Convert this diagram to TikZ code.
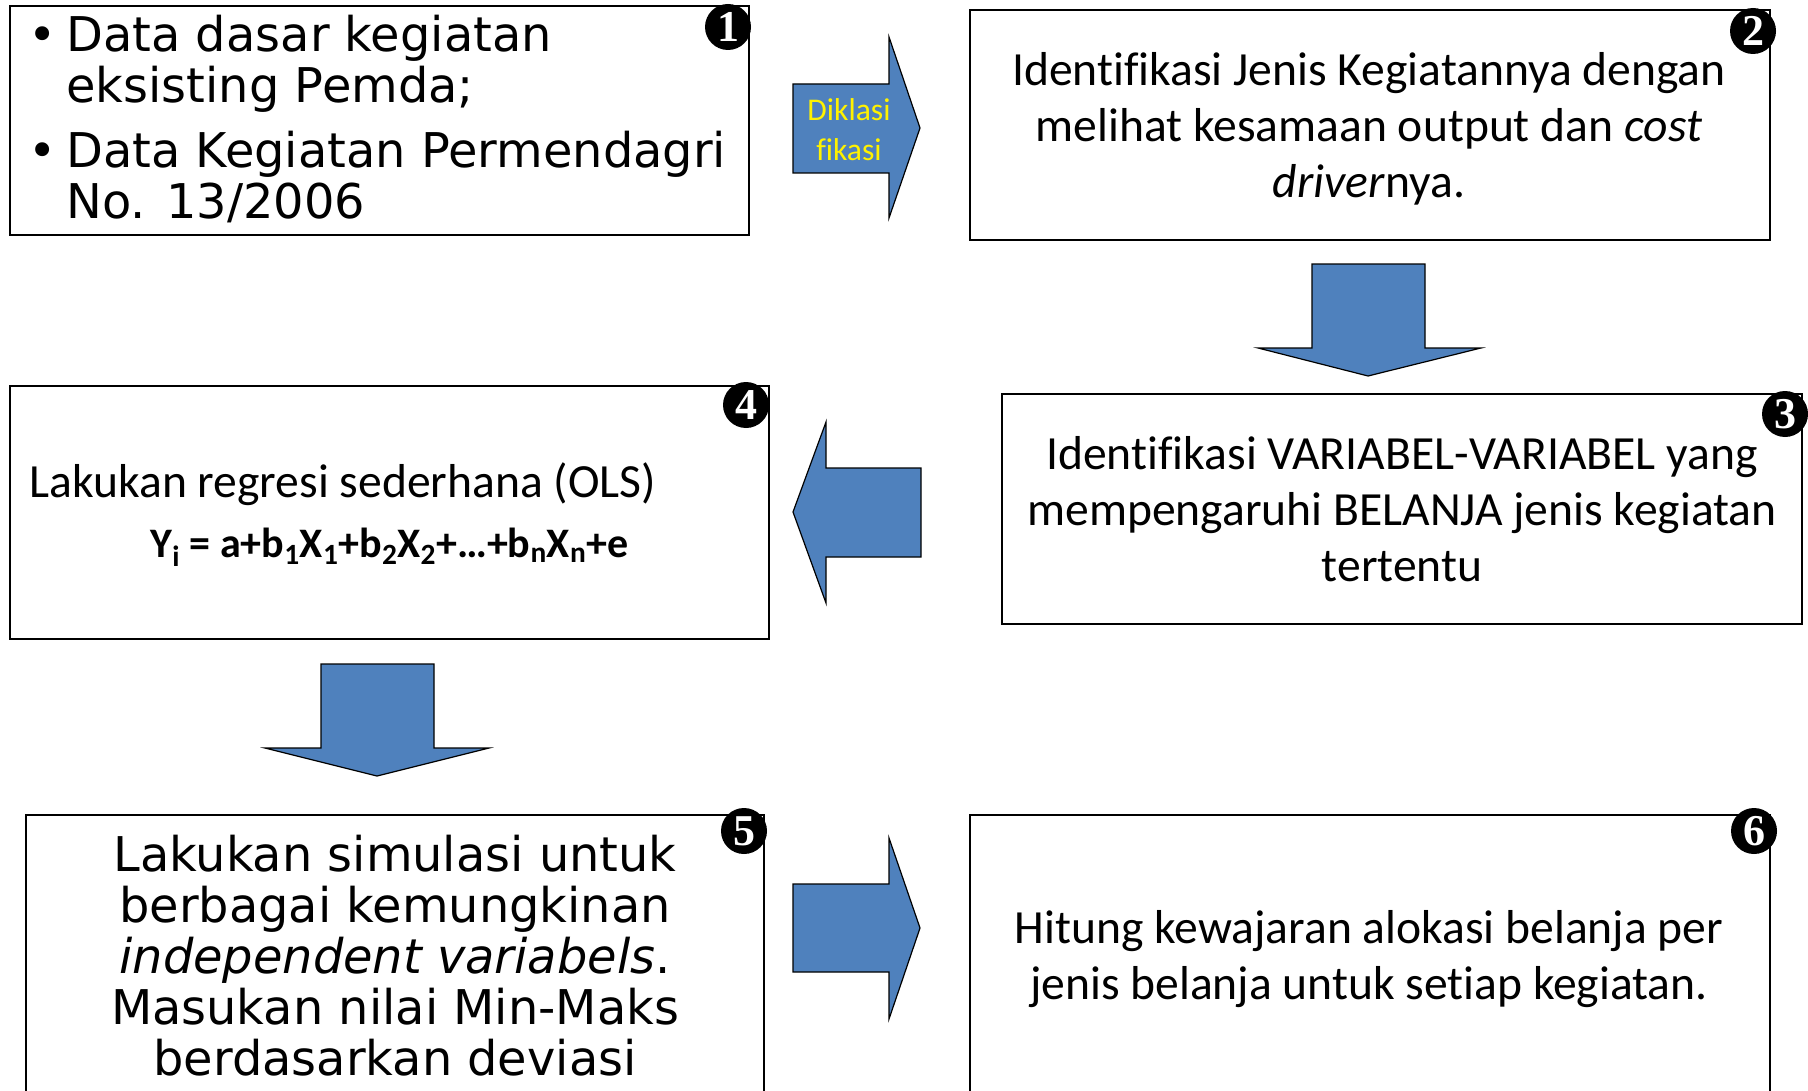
\documentclass[tikz,border=0pt]{standalone}
\usepackage{fontspec}
\setmainfont{Carlito}[Ligatures=NoCommon]
\newfontfamily\verdfont{DejaVu Sans}
\newfontfamily\numfont{Liberation Serif}

\definecolor{arrowblue}{RGB}{79,129,189}

\tikzset{every picture/.style={line width=0.75pt}}
\tikzset{
  stepbox/.style={draw, line width=1.5, rectangle, inner sep=0pt, anchor=north west, align=center},
  blockarrow/.style={fill=arrowblue, draw=black, line width=0.9},
  badge/.style={circle, fill=black, text=white, inner sep=0pt, minimum size=34.5pt, font=\numfont\bfseries\fontsize{33}{33}\selectfont},
  calib/.style={font=\fontsize{35.7}{42}\selectfont},
  verd/.style={font=\verdfont\fontsize{35.9}{38.3}\selectfont},
}

\begin{document}
\begin{tikzpicture}[x=0.75pt,y=0.75pt,yscale=-1,xscale=1]
\useasboundingbox (0,0) rectangle (1808,1091);

%Shape: Rectangle [box 1]
\node (box1) [stepbox, minimum width=554.25pt, minimum height=171.75pt] at (9,5) {};
%Shape: Rectangle [box 2]
\node (box2) [stepbox, minimum width=600pt, minimum height=172.5pt] at (969,9) {};
%Shape: Rectangle [box 3]
\node (box3) [stepbox, calib, minimum width=600pt, minimum height=172.5pt] at (1001,393) {Identifikasi VARIABEL-VARIABEL yang\\mempengaruhi BELANJA jenis kegiatan\\tertentu};
%Shape: Rectangle [box 4]
\node (box4) [stepbox, minimum width=569.25pt, minimum height=189.75pt] at (9,385) {};
%Shape: Rectangle [box 5]
\node (box5) [stepbox, verd, minimum width=553.5pt, minimum height=211.5pt] at (25,814) {Lakukan simulasi untuk\\berbagai kemungkinan\\\textit{independent variabels}.\\Masukan nilai Min-Maks\\berdasarkan deviasi};
%Shape: Rectangle [box 6]
\node (box6) [stepbox, minimum width=600pt, minimum height=212.25pt] at (969,814) {};

%Shape: Right Arrow [1 to 2]
\draw [blockarrow] (793,84) -- (889,84) -- (889,37) -- (920,128) -- (889,218) -- (889,173) -- (793,173) -- cycle ;
%Shape: Down Arrow [2 to 3]
\draw [blockarrow] (1312,264) -- (1425,264) -- (1425,348) -- (1481,348) -- (1368,376) -- (1258,348) -- (1312,348) -- cycle ;
%Shape: Left Arrow [3 to 4]
\draw [blockarrow] (921,468) -- (826,468) -- (826,422) -- (793,512) -- (826,603) -- (826,557) -- (921,557) -- cycle ;
%Shape: Down Arrow [4 to 5]
\draw [blockarrow] (321,664) -- (434,664) -- (434,748) -- (489,748) -- (377,776) -- (265,748) -- (321,748) -- cycle ;
%Shape: Right Arrow [5 to 6]
\draw [blockarrow] (793,884) -- (889,884) -- (889,838) -- (920,928) -- (889,1019) -- (889,972) -- (793,972) -- cycle ;

% Text Node
\node (item1) [anchor=west, verd, align=left, inner sep=0pt] at (28,64) {\makebox[28.5pt][l]{\textbullet}Data dasar kegiatan\\\hspace*{28.5pt}eksisting Pemda;};
% Text Node
\node (item2) [anchor=west, verd, align=left, inner sep=0pt] at (28,177) {\makebox[28.5pt][l]{\textbullet}Data Kegiatan Permendagri\\\hspace*{28.5pt}No. 13/2006};
% Text Node
\node (t2) [calib, align=center, inner sep=0pt] at (1369,128.5) {Identifikasi Jenis Kegiatannya dengan\\melihat kesamaan output dan \textit{cost}\\\textit{driver}nya.};
% Text Node
\node (ols) [anchor=west, calib, inner sep=0pt] at (29,484) {Lakukan regresi sederhana (OLS)};
% Text Node
\node (formula) [anchor=west, font=\fontsize{31.5}{36}\selectfont, inner sep=0pt] at (150,547) {\textbf{Y\textsubscript{i} = a+b\textsubscript{1}X\textsubscript{1}+b\textsubscript{2}X\textsubscript{2}+…+b\textsubscript{n}X\textsubscript{n}+e}};
% Text Node
\node (t6) [calib, align=center, inner sep=0pt] at (1369,959.5) {Hitung kewajaran alokasi belanja per\\jenis belanja untuk setiap kegiatan.};
% Text Node
\node (klas) [align=center, text=yellow, font=\fontsize{23.7}{30}\selectfont] at (849,130) {Diklasi\\fikasi};

% Number badges
\node (n1) [badge] at (728,27) {1};
\node (n2) [badge] at (1753,31) {2};
\node (n3) [badge] at (1785,414) {3};
\node (n4) [badge] at (746,405) {4};
\node (n5) [badge] at (744,831) {5};
\node (n6) [badge] at (1754,831) {6};

\end{tikzpicture}
\end{document}
